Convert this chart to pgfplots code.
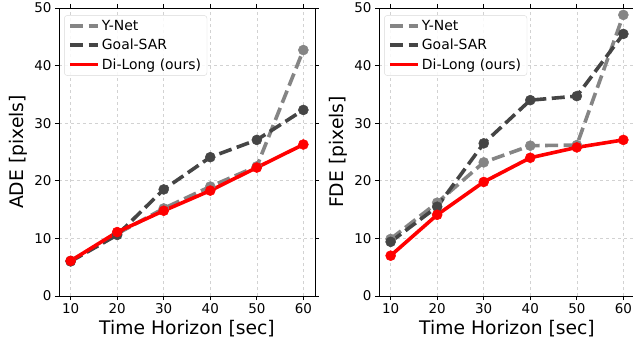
\documentclass[border=0pt]{standalone}
\usepackage{fontspec}
\setmainfont{DejaVu Sans}
\usepackage{pgfplots}
\pgfplotsset{compat=1.18}
\definecolor{ynet}{HTML}{858585}
\definecolor{gsar}{HTML}{454545}
\definecolor{dilong}{HTML}{FF0000}
\pgfplotsset{
  myax/.style={
    scale only axis, width=256bp, height=288bp,
    xmin=7.5, xmax=62.5, ymin=0, ymax=50,
    xtick={10,20,30,40,50,60}, ytick={0,10,20,30,40,50},
    tick align=outside, major tick length=4bp,
    tick style={black, line width=0.8bp},
    axis line style={black, line width=0.8bp},
    grid=major, grid style={dashed, gray!35, line width=0.6bp},
    /pgf/number format/assume math mode=true,
    ticklabel style={font=\fontsize{13.5}{16}\selectfont},
    label style={font=\fontsize{18.8}{22}\selectfont},
    xlabel={Time Horizon [sec]},
    legend style={at={(0.02,0.975)}, anchor=north west, draw=gray!30, rounded corners=3bp,
      fill=white, fill opacity=0.85, text opacity=1, font=\fontsize{14}{16}\selectfont,
      row sep=3.2bp, inner xsep=4bp, inner ysep=3bp},
    legend cell align=left,
    legend image code/.code={\draw[#1] (0bp,0bp) -- (28bp,0bp);},
    every axis plot/.append style={line width=3.6bp, mark=*, mark size=5bp},
  },
  ynetst/.style={ynet, dash pattern=on 13bp off 5.5bp, mark options={solid, line width=0.5bp, fill=ynet}},
  gsarst/.style={gsar, dash pattern=on 13bp off 5.5bp, mark options={solid, line width=0.5bp, fill=gsar}},
  dilongst/.style={dilong, solid, mark options={solid, line width=0.5bp, fill=dilong}},
}
\begin{document}
\begin{tikzpicture}
\useasboundingbox (0,0) rectangle (633bp,347bp);
\begin{axis}[myax, at={(59bp,51bp)}, anchor=south west, ylabel={ADE [pixels]}]
\addplot[ynetst] coordinates {(10,6.1) (20,10.8) (30,15.2) (40,19.0) (50,22.5) (60,42.7)};
\addlegendentry{Y-Net}
\addplot[gsarst] coordinates {(10,6.0) (20,10.6) (30,18.5) (40,24.1) (50,27.1) (60,32.3)};
\addlegendentry{Goal-SAR}
\addplot[dilongst] coordinates {(10,6.1) (20,11.1) (30,14.8) (40,18.3) (50,22.3) (60,26.3)};
\addlegendentry{Di-Long (ours)}
\end{axis}
\begin{axis}[myax, at={(379bp,51bp)}, anchor=south west, ylabel={FDE [pixels]}]
\addplot[ynetst] coordinates {(10,9.9) (20,16.2) (30,23.2) (40,26.1) (50,26.2) (60,48.8)};
\addlegendentry{Y-Net}
\addplot[gsarst] coordinates {(10,9.4) (20,15.5) (30,26.5) (40,34.0) (50,34.7) (60,45.5)};
\addlegendentry{Goal-SAR}
\addplot[dilongst] coordinates {(10,7.0) (20,14.1) (30,19.8) (40,24.0) (50,25.8) (60,27.1)};
\addlegendentry{Di-Long (ours)}
\end{axis}
\end{tikzpicture}
\end{document}
